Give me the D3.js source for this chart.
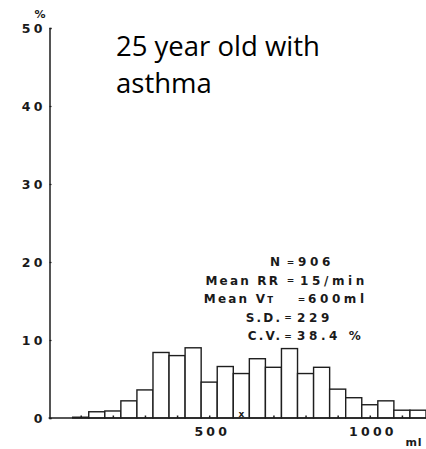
<!DOCTYPE html>
<html>
<head>
<meta charset="utf-8">
<script src="https://cdn.jsdelivr.net/npm/d3@7"></script>
<style>
  html, body { margin: 0; padding: 0; background: #fff; }
  svg { display: block; }
  .mono { font-family: "DejaVu Sans", sans-serif; font-weight: bold; fill: #1a1a1a; }
</style>
</head>
<body>
<svg id="chart" width="426" height="449"></svg>
<script>
// Tidal volume histogram: 50 ml bins centred on 100 ... 1150 ml
const binStarts = [75, 125, 175, 225, 275, 325, 375, 425, 475, 525, 575,
                   625, 675, 725, 775, 825, 875, 925, 975, 1025, 1075, 1125];
const binWidth = 50;
const percents = [0.1, 0.8, 0.9, 2.2, 3.6, 8.4, 8.0, 9.0, 4.6, 6.6, 5.7,
                  7.6, 6.5, 8.9, 5.7, 6.5, 3.7, 2.6, 1.7, 2.2, 1.0, 1.0];
const yTicks = [0, 10, 20, 30, 40, 50];
const xLabelTicks = [500, 1000];
const xMinorTicks = [100, 200, 300, 400, 500, 700, 800, 900, 1000, 1100];
const meanVT = 600;
const titleLines = ["25 year old with", "asthma"];
const statLabels = ["N", "Mean RR", "Mean V", "S.D.", "C.V."];
const statValues = ["906", "15/min", "600ml", "229", "38.4 %"];

const svg = d3.select("#chart");

const x = d3.scaleLinear().domain([0, 1175]).range([48.6, 426]);
const y = d3.scaleLinear().domain([0, 50]).range([418, 28]);

const ink = "#1e1e1e";
const ls = 3.2; // letter spacing of the typewriter-style axis labels

// bars
svg.append("g")
  .selectAll("rect")
  .data(binStarts.map((s, i) => ({ s, v: percents[i] })))
  .join("rect")
  .attr("x", d => x(d.s))
  .attr("y", d => y(d.v))
  .attr("width", d => x(d.s + binWidth) - x(d.s))
  .attr("height", d => y(0) - y(d.v))
  .attr("fill", "#fff")
  .attr("stroke", ink)
  .attr("stroke-width", 1.4);

// y axis
const yAxis = d3.axisLeft(y).tickValues(yTicks).tickSize(-2).tickPadding(7).tickFormat(d3.format("d"));
const gy = svg.append("g").attr("transform", `translate(${x(0) + 0.9},0)`).call(yAxis);
gy.select(".domain").attr("stroke", ink).attr("stroke-width", 1.5);
gy.selectAll(".tick line").attr("stroke", ink).attr("stroke-width", 1.2);
gy.selectAll(".tick text")
  .attr("class", "mono")
  .attr("font-size", 12.5)
  .attr("letter-spacing", 3.4)
  .attr("dx", 3.4);

// percent sign above the axis
svg.append("text").attr("class", "mono")
  .attr("x", 40).attr("y", 18)
  .attr("text-anchor", "middle")
  .attr("font-size", 11)
  .text("%");

// x axis baseline with minor ticks pointing up
const xAxis = d3.axisBottom(x).tickValues(xMinorTicks).tickSize(-2.5).tickFormat("");
const gx = svg.append("g").attr("transform", `translate(0,${y(0)})`).call(xAxis);
gx.select(".domain").attr("stroke", ink).attr("stroke-width", 1.5).attr("d", `M${x(0)},0H426`);
gx.selectAll(".tick line").attr("stroke", ink).attr("stroke-width", 1.5);

// x labels
svg.append("g").selectAll("text")
  .data(xLabelTicks)
  .join("text")
  .attr("class", "mono")
  .attr("x", d => x(d) + 1.5 + ls / 2)
  .attr("y", y(0) + 17.5)
  .attr("text-anchor", "middle")
  .attr("font-size", 12.5)
  .attr("letter-spacing", ls)
  .text(d => d);

svg.append("text").attr("class", "mono")
  .attr("x", 414).attr("y", 445.5)
  .attr("text-anchor", "middle")
  .attr("font-size", 11)
  .attr("letter-spacing", 1)
  .text("ml");

// mean marker
svg.append("text").attr("class", "mono")
  .attr("x", x(meanVT)).attr("y", y(0) - 1)
  .attr("text-anchor", "middle")
  .attr("font-size", 9)
  .attr("font-weight", "normal")
  .text("x");

// title
svg.append("g").selectAll("text")
  .data(titleLines)
  .join("text")
  .attr("x", 116)
  .attr("y", (d, i) => 56 + i * 37.3)
  .attr("font-family", "'Open Sans', sans-serif")
  .attr("font-size", 27.5)
  .attr("fill", "#000")
  .text(d => d);

// summary statistics block
const statLabelEnd = [280, 278, 273, 280, 280];
const statEq = [290.5, 290.5, 301.5, 288, 288];
const statValueStart = [298, 300, 308, 297, 297];
const statTop = 266;
const statStep = 18.5;
const labelLs = 2.2;
const valueLs = 3.6;
const sg = svg.append("g");
statLabels.forEach((lab, i) => {
  const yy = statTop + i * statStep;
  const t = sg.append("text").attr("class", "mono")
    .attr("x", statLabelEnd[i] + labelLs).attr("y", yy)
    .attr("text-anchor", "end")
    .attr("font-size", 12)
    .attr("letter-spacing", labelLs);
  t.append("tspan").text(lab);
  if (lab === "Mean V") {
    t.append("tspan").attr("font-size", 8.5).text("T");
  }
  sg.append("text").attr("class", "mono")
    .attr("x", statEq[i]).attr("y", yy - 1.5)
    .attr("text-anchor", "middle")
    .attr("font-size", 9)
    .text("=");
  sg.append("text").attr("class", "mono")
    .attr("x", statValueStart[i]).attr("y", yy)
    .attr("font-size", 12)
    .attr("letter-spacing", valueLs)
    .text(statValues[i]);
});
</script>
</body>
</html>
